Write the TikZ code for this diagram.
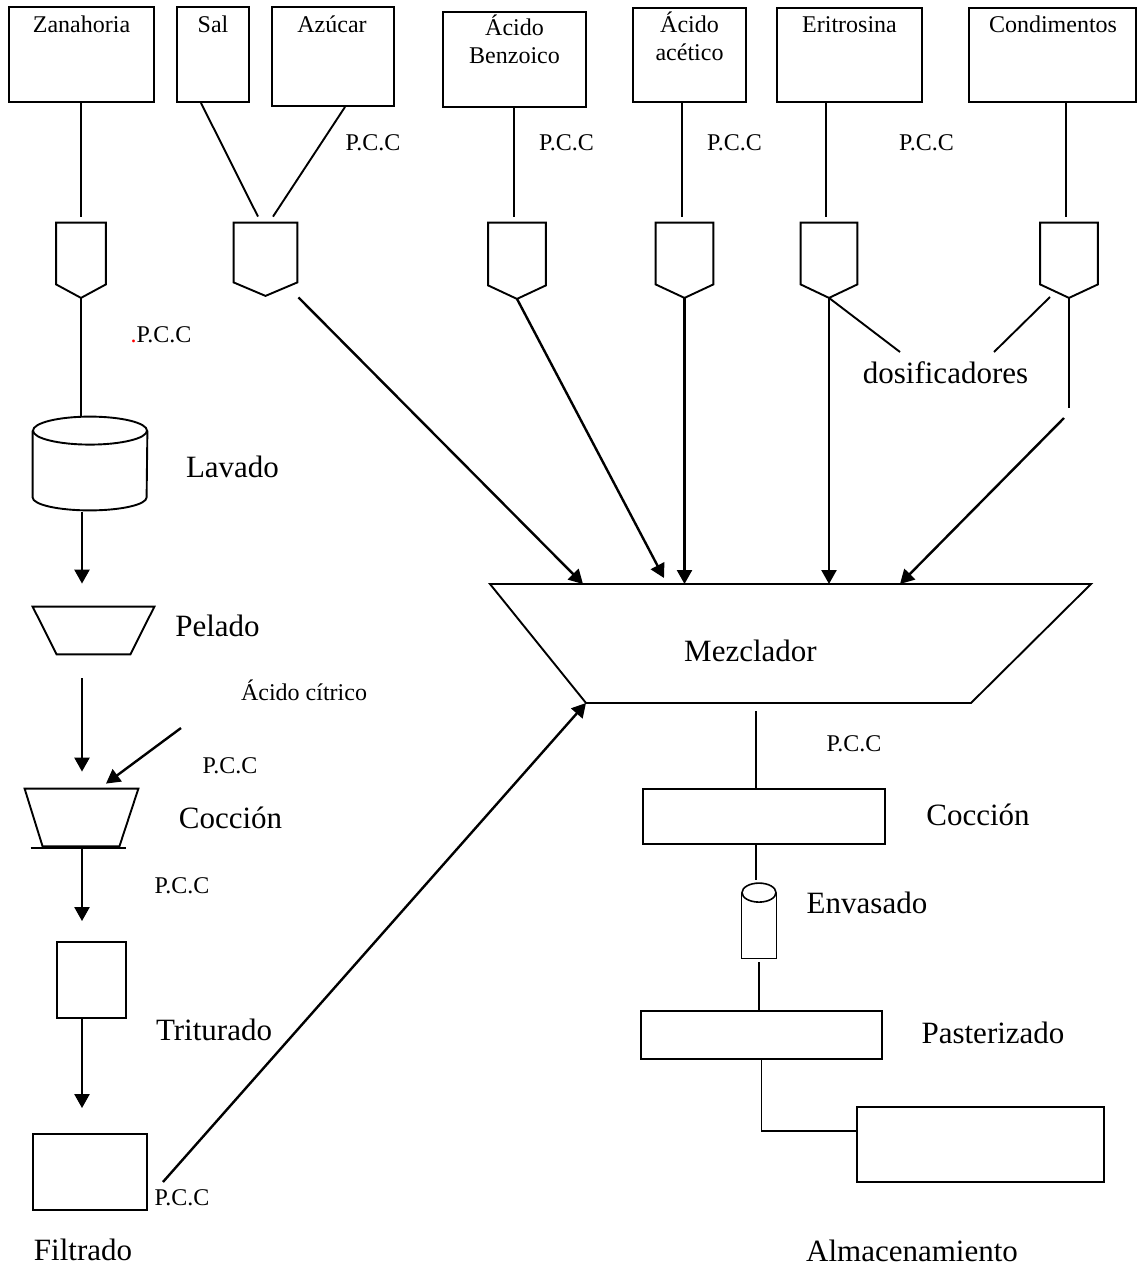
\documentclass[tikz,border=0pt]{standalone}
\usepackage{fontspec}
\setmainfont{Liberation Serif}
\usetikzlibrary{arrows.meta}
\newcommand\smallfnt{\fontsize{12pt}{14pt}\selectfont}
\newcommand\bigfnt{\fontsize{15.5pt}{18pt}\selectfont}
\newcommand\dosif[1]{\draw[outl] (#1.north west) -- (#1.south west) -- ([yshift=-6.75pt]#1.south) coordinate (#1t) -- (#1.south east) -- (#1.north east) -- cycle;}
\begin{document}
\begin{tikzpicture}[x=0.5pt,y=-0.5pt,
  box/.style={draw, line width=0.95pt, inner sep=0pt},
  rbox/.style={draw, line width=0.8pt, inner sep=0pt},
  ghost/.style={draw=none, inner sep=0pt},
  outl/.style={line width=0.95pt, line join=miter},
  thinline/.style={line width=0.95pt},
  hairline/.style={line width=0.75pt},
  arr/.style={line width=1.2pt, -{Triangle[length=7pt,width=7.5pt]}},
  lbl/.style={inner sep=0pt, anchor=base, font=\smallfnt},
  biglbl/.style={inner sep=0pt, anchor=base, font=\bigfnt}]
\useasboundingbox (0,0) rectangle (1137,1270);

% ---------- top boxes ----------
\node[box, minimum width=72.5pt, minimum height=47.5pt] (zan) at (81.5,54.5) {};
\node[box, minimum width=36pt, minimum height=47.5pt] (sal) at (213,54.5) {};
\node[box, minimum width=61pt, minimum height=49.5pt] (azu) at (333,56.5) {};
\node[box, minimum width=71.5pt, minimum height=47.5pt] (ben) at (514.5,59.5) {};
\node[box, minimum width=56.5pt, minimum height=47pt] (ace) at (689.5,55) {};
\node[box, minimum width=72.5pt, minimum height=47pt] (eri) at (849.5,55) {};
\node[box, minimum width=83.5pt, minimum height=47pt] (con) at (1052.5,55) {};

\node[lbl] (tzan) at (81.5,32) {Zanahoria};
\node[lbl] (tsal) at (213,32) {Sal};
\node[lbl] (tazu) at (332,32) {Azúcar};
\node[lbl] (tben1) at (514.5,35) {Ácido};
\node[lbl] (tben2) at (514.5,63) {Benzoico};
\node[lbl] (tace1) at (689.5,32) {Ácido};
\node[lbl] (tace2) at (689.5,60) {acético};
\node[lbl] (teri) at (849.5,32) {Eritrosina};
\node[lbl] (tcon) at (1053,32) {Condimentos};

\node[lbl] (p1) at (373,150) {P.C.C};
\node[lbl] (p2) at (566.5,150) {P.C.C};
\node[lbl] (p3) at (734.5,150) {P.C.C};
\node[lbl] (p4) at (926.5,150) {P.C.C};

% ---------- dosifiers ----------
\node[ghost, minimum width=24.5pt, minimum height=30.5pt] (dz) at (81,253.5) {};
\node[ghost, minimum width=31.5pt, minimum height=29.5pt] (ds) at (265.5,252.5) {};
\node[ghost, minimum width=28.5pt, minimum height=31pt] (db) at (517,254) {};
\node[ghost, minimum width=28.5pt, minimum height=30.5pt] (da) at (684.5,253.5) {};
\node[ghost, minimum width=28pt, minimum height=30.5pt] (de) at (829,253.5) {};
\node[ghost, minimum width=28.5pt, minimum height=30.5pt] (dc) at (1069,253.5) {};
\dosif{dz}\dosif{ds}\dosif{db}\dosif{da}\dosif{de}\dosif{dc}

% box -> dosifier lines
\coordinate (zo) at ([xshift=-0.25pt]zan.south);
\draw[thinline, shorten >=3pt] (zo) -- (zo |- dz.north);
\draw[thinline] ([xshift=-6pt]sal.south) -- ([xshift=-3.75pt,yshift=3pt]ds.north);
\draw[thinline] ([xshift=6pt]azu.south) -- ([xshift=3.75pt,yshift=3pt]ds.north);
\coordinate (bo) at ([xshift=-0.25pt]ben.south);
\draw[thinline, shorten >=3pt] (bo) -- (bo |- db.north);
\coordinate (ao) at ([xshift=-3.75pt]ace.south);
\draw[thinline, shorten >=3pt] (ao) -- (ao |- da.north);
\coordinate (eo) at ([xshift=-11.75pt]eri.south);
\draw[thinline, shorten >=3pt] (eo) -- (eo |- de.north);
\coordinate (co) at ([xshift=6.75pt]con.south);
\draw[thinline, shorten >=3pt] (co) -- (co |- dc.north);

% ---------- mezclador ----------
\coordinate (mTL) at (490,584);
\coordinate (mTR) at (1091,584);
\coordinate (mBR) at (971,703);
\coordinate (mBL) at (586,703);
\draw[outl] (mTL) -- (mTR) -- (mBR) -- (mBL) -- cycle;
\node[biglbl] (mez) at (750.5,661) {Mezclador};

\coordinate (i1) at (583,584);
\coordinate (i2) at (664,578);
\coordinate (i5) at (900,584);
\draw[arr] ([xshift=0.5pt,yshift=-7.5pt]ds.south east) -- (i1);
\draw[arr] (dbt) -- (i2);
\draw[arr] (dat) -- (dat |- mTL);
\draw[arr] (det) -- (det |- mTL);

% dosificadores label
\node[biglbl] (dosl) at (945.5,383) {dosificadores};
\coordinate (dl) at (900,352);
\coordinate (dr) at (994,352);
\coordinate (c1) at (1050,297);
\draw[thinline] (det) -- (dl);
\draw[thinline] (c1) -- (dr);
\coordinate (c2) at (1066,408);
\draw[thinline] (dct) -- (dct |- c2);
\coordinate (c3) at (1064,418);
\draw[arr] (c3) -- (i5);

% ---------- left column ----------
\node[lbl] (pz) at (161,342) {{\color{red}.}P.C.C};

\node[ghost, minimum width=57pt, minimum height=46.5pt] (lav) at (90,463.5) {};
\draw[outl] ([yshift=-7pt]lav.north) ellipse [x radius=28.5pt, y radius=7pt];
\draw[outl] ([yshift=-7pt]lav.north west) -- ([yshift=6.5pt]lav.south west)
  arc[start angle=180, end angle=360, x radius=28.5pt, y radius=6.5pt] -- ([yshift=-7pt]lav.north east);
\node[biglbl] (tlav) at (232.5,477) {Lavado};
\draw[thinline] (dzt) -- (dzt |- lav.north);

\node[ghost, minimum width=60.5pt, minimum height=23.5pt] (pel) at (93.5,630.5) {};
\draw[outl] (pel.north west) -- (pel.north east) -- ([xshift=-12pt]pel.south east) -- ([xshift=12pt]pel.south west) -- cycle;
\node[biglbl] (tpel) at (217.5,636) {Pelado};
\coordinate (lavout) at ([xshift=-4pt,yshift=-1pt]lav.south);
\draw[arr, shorten >=11.5pt] (lavout) -- (lavout |- pel.north);

\node[ghost, minimum width=56.5pt, minimum height=29.5pt] (cocl) at (81.5,818.5) {};
\draw[outl] (cocl.north west) -- (cocl.north east) -- ([xshift=-9.5pt,yshift=1pt]cocl.south east) -- ([xshift=9pt,yshift=1pt]cocl.south west) -- cycle;
\draw[outl] ([xshift=3pt]cocl.south west) -- ([xshift=-6pt]cocl.south east);
\node[biglbl] (tcocl) at (230.5,828) {Cocción};
\coordinate (pelout) at ([xshift=-5.75pt]pel.south);
\draw[arr, shorten <=12pt, shorten >=8.5pt] (pelout) -- (pelout |- cocl.north);

\node[lbl] (tcit) at (304,700) {Ácido cítrico};
\coordinate (ac0) at (181,728);
\draw[arr] (ac0) -- ([xshift=12.25pt,yshift=2.5pt]cocl.north);
\node[lbl] (p5) at (230,773) {P.C.C};

\node[box, minimum width=34.5pt, minimum height=38pt] (tri) at (91.5,980) {};
\coordinate (cocout) at ([xshift=0.25pt]cocl.south);
\draw[arr, shorten >=10pt] (cocout) -- (cocout |- tri.north);
\node[lbl] (p6) at (182,893) {P.C.C};
\node[biglbl] (ttri) at (214,1040) {Triturado};

\node[box, minimum width=57pt, minimum height=38pt] (fil) at (90,1172) {};
\coordinate (triout) at ([xshift=-4.75pt]tri.south);
\draw[arr, shorten >=12.5pt] (triout) -- (triout |- fil.north);
\node[lbl] (p7) at (182,1205) {P.C.C};
\node[biglbl] (tfil) at (83,1260) {Filtrado};
\draw[arr] ([xshift=7.5pt,yshift=-5pt]fil.east) -- (mBL);

% ---------- right column ----------
\node[rbox, minimum width=121pt, minimum height=27.5pt] (cocr) at (764,816.5) {};
\coordinate (mout) at (756,711);
\draw[hairline] (mout) -- ([xshift=-4pt]cocr.north);
\node[lbl] (p8) at (854,751) {P.C.C};
\node[biglbl] (tcocr) at (978,825) {Cocción};

\node[ghost, minimum width=17pt, minimum height=37.25pt] (can) at (759,920.75) {};
\draw[outl, line width=0.8pt] ([yshift=-4.75pt]can.north) ellipse [x radius=8.5pt, y radius=4.75pt];
\draw[outl, line width=0.8pt] ([yshift=-4.75pt]can.north west) -- (can.south west) -- (can.south east) -- ([yshift=-4.75pt]can.north east);
\coordinate (cocrout) at ([xshift=-4pt]cocr.south);
\draw[hairline, shorten >=1.75pt] (cocrout) -- (cocrout |- can.north);
\node[biglbl] (tenv) at (867,913) {Envasado};

\node[rbox, minimum width=120.5pt, minimum height=24pt] (past) at (761.5,1035) {};
\draw[hairline, shorten <=2pt] (can.south) -- (can.south |- past.north);
\node[biglbl] (tpas) at (993,1043) {Pasterizado};

\node[rbox, minimum width=123.5pt, minimum height=37.5pt] (alm) at (980.5,1144.5) {};
\coordinate (almin) at ([yshift=6.75pt]alm.west);
\draw[hairline] (past.south) |- (almin);
\node[biglbl] (talm) at (912,1261) {Almacenamiento};
\end{tikzpicture}
\end{document}
